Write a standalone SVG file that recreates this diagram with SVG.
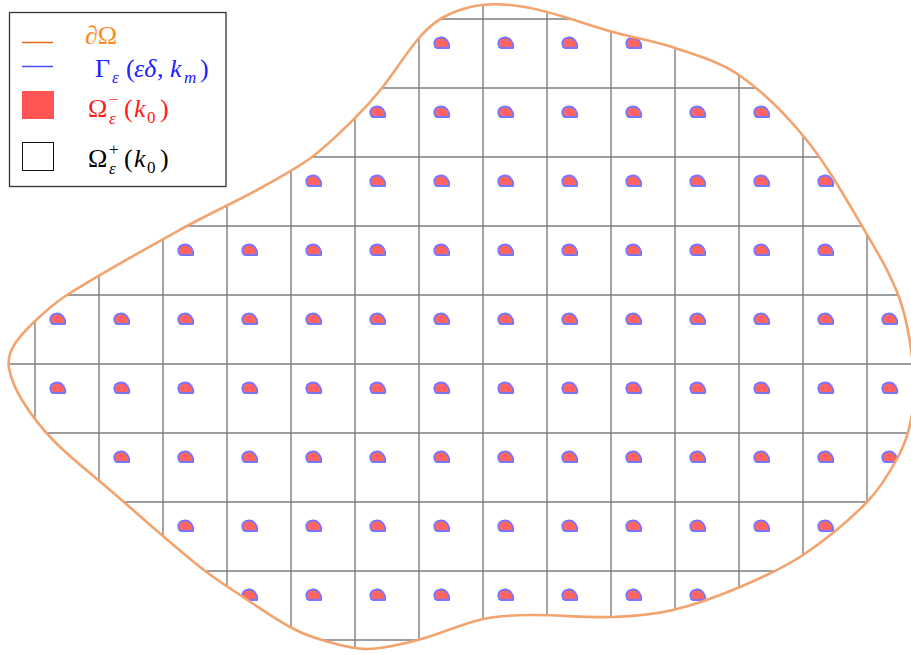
<svg xmlns="http://www.w3.org/2000/svg" xmlns:xlink="http://www.w3.org/1999/xlink" width="911" height="655" viewBox="0 0 911 655">
<style>
.grid line{stroke:#7e7e7e;stroke-width:1.4}
.blob{fill:#ff6464;stroke:#7676ff;stroke-width:1.9;stroke-linejoin:round}
.bd{fill:none;stroke:#f2a36e;stroke-width:2.6}
.t{font-family:"Liberation Serif","Times New Roman",serif;font-size:26px}
.s{font-family:"Liberation Serif","Times New Roman",serif;font-size:17px}
.i{font-style:italic}
</style>
<defs>
<path id="dom" d="M510,5 C522.5,6 534.8,8.8 547,12 C569.2,17.8 590.9,25.8 613,32 C633.5,37.8 654.8,41.1 675,48 C696.9,55.5 720,61.8 739,75 C764,92.3 785.8,114.4 805,138 C827,165.1 844.3,195.9 862,226 C876,249.9 890.8,273.8 900,300 C908.4,324 911.7,349.7 914,375 C915.4,390 913.9,405.2 911,420 C908.5,432.8 904.2,445.5 898,457 C889.4,473 879.7,488.9 867,502 C847.7,521.9 826,539.6 803,555 C783.4,568.1 761.7,577.8 740,587 C718.3,596.2 696,604.6 673,610 C653.4,614.6 633.1,616.3 613,617 C585.4,618 557.7,614.6 530,615 C514.3,615.2 498.4,615.6 483,619 C460.8,624 440,634.3 418,640 C401.3,644.3 384.3,649 367,649 C351.7,649 336.7,644.2 322,640 C310.9,636.8 300.1,632.5 290,627 C273.7,618.1 258.5,607.3 243,597 C228.5,587.3 213.6,578 200,567 C169.3,542.3 139.9,515.8 110,490 C90.9,473.5 70.7,458.1 53,440 C41.2,427.9 30.8,414.4 22,400 C16,390.2 10.9,379.3 9,368 C7.8,361 9.6,353.3 13,347 C17.9,337.8 25.5,330.2 33,323 C43.6,312.8 54.6,302.8 67,295 C106,270.4 146.6,248.3 187,226 C210,213.3 234,202.7 257,190 C275.7,179.7 294.8,169.7 312,157 C327.6,145.5 341.2,131.6 355,118 C364.6,108.5 373.6,98.5 382,88 C395,71.8 405.5,53.7 419,38 C425.6,30.3 433.2,23 442,18 C452.2,12.2 463.5,8.2 475,6 C486.5,3.8 498.4,4 510,5 Z"/>
<clipPath id="clip"><use xlink:href="#dom" href="#dom"/></clipPath>
<path id="b" class="blob" d="M-5,5 C-7.8,4.2 -8.6,-0.6 -6.4,-3.4 C-4,-6.2 1.6,-6.3 4.3,-3.4 C6.4,-1.1 7.6,2.4 7,5 Z"/>
</defs>
<rect width="911" height="655" fill="#fff"/>
<g id="grid" class="grid" clip-path="url(#clip)">
<line x1="35" y1="0" x2="35" y2="655"/><line x1="99" y1="0" x2="99" y2="655"/><line x1="163" y1="0" x2="163" y2="655"/><line x1="227" y1="0" x2="227" y2="655"/><line x1="291" y1="0" x2="291" y2="655"/><line x1="355" y1="0" x2="355" y2="655"/><line x1="419" y1="0" x2="419" y2="655"/><line x1="483" y1="0" x2="483" y2="655"/><line x1="547" y1="0" x2="547" y2="655"/><line x1="611" y1="0" x2="611" y2="655"/><line x1="675" y1="0" x2="675" y2="655"/><line x1="739" y1="0" x2="739" y2="655"/><line x1="803" y1="0" x2="803" y2="655"/><line x1="867" y1="0" x2="867" y2="655"/>
<line x1="0" y1="19" x2="911" y2="19"/><line x1="0" y1="88" x2="911" y2="88"/><line x1="0" y1="157" x2="911" y2="157"/><line x1="0" y1="226" x2="911" y2="226"/><line x1="0" y1="295" x2="911" y2="295"/><line x1="0" y1="364" x2="911" y2="364"/><line x1="0" y1="433" x2="911" y2="433"/><line x1="0" y1="502" x2="911" y2="502"/><line x1="0" y1="571" x2="911" y2="571"/><line x1="0" y1="640" x2="911" y2="640"/>
</g>
<g id="inclusions" clip-path="url(#clip)">
<use href="#b" x="442" y="43"/><use href="#b" x="506" y="43"/><use href="#b" x="570" y="43"/><use href="#b" x="634" y="43"/>
<use href="#b" x="378" y="112"/><use href="#b" x="442" y="112"/><use href="#b" x="506" y="112"/><use href="#b" x="570" y="112"/><use href="#b" x="634" y="112"/><use href="#b" x="698" y="112"/><use href="#b" x="762" y="112"/>
<use href="#b" x="314" y="181"/><use href="#b" x="378" y="181"/><use href="#b" x="442" y="181"/><use href="#b" x="506" y="181"/><use href="#b" x="570" y="181"/><use href="#b" x="634" y="181"/><use href="#b" x="698" y="181"/><use href="#b" x="762" y="181"/><use href="#b" x="826" y="181"/>
<use href="#b" x="186" y="250"/><use href="#b" x="250" y="250"/><use href="#b" x="314" y="250"/><use href="#b" x="378" y="250"/><use href="#b" x="442" y="250"/><use href="#b" x="506" y="250"/><use href="#b" x="570" y="250"/><use href="#b" x="634" y="250"/><use href="#b" x="698" y="250"/><use href="#b" x="762" y="250"/><use href="#b" x="826" y="250"/>
<use href="#b" x="58" y="319"/><use href="#b" x="122" y="319"/><use href="#b" x="186" y="319"/><use href="#b" x="250" y="319"/><use href="#b" x="314" y="319"/><use href="#b" x="378" y="319"/><use href="#b" x="442" y="319"/><use href="#b" x="506" y="319"/><use href="#b" x="570" y="319"/><use href="#b" x="634" y="319"/><use href="#b" x="698" y="319"/><use href="#b" x="762" y="319"/><use href="#b" x="826" y="319"/><use href="#b" x="890" y="319"/>
<use href="#b" x="58" y="388"/><use href="#b" x="122" y="388"/><use href="#b" x="186" y="388"/><use href="#b" x="250" y="388"/><use href="#b" x="314" y="388"/><use href="#b" x="378" y="388"/><use href="#b" x="442" y="388"/><use href="#b" x="506" y="388"/><use href="#b" x="570" y="388"/><use href="#b" x="634" y="388"/><use href="#b" x="698" y="388"/><use href="#b" x="762" y="388"/><use href="#b" x="826" y="388"/><use href="#b" x="890" y="388"/>
<use href="#b" x="122" y="457"/><use href="#b" x="186" y="457"/><use href="#b" x="250" y="457"/><use href="#b" x="314" y="457"/><use href="#b" x="378" y="457"/><use href="#b" x="442" y="457"/><use href="#b" x="506" y="457"/><use href="#b" x="570" y="457"/><use href="#b" x="634" y="457"/><use href="#b" x="698" y="457"/><use href="#b" x="762" y="457"/><use href="#b" x="826" y="457"/><use href="#b" x="890" y="457"/>
<use href="#b" x="186" y="526"/><use href="#b" x="250" y="526"/><use href="#b" x="314" y="526"/><use href="#b" x="378" y="526"/><use href="#b" x="442" y="526"/><use href="#b" x="506" y="526"/><use href="#b" x="570" y="526"/><use href="#b" x="634" y="526"/><use href="#b" x="698" y="526"/><use href="#b" x="762" y="526"/><use href="#b" x="826" y="526"/>
<use href="#b" x="250" y="595"/><use href="#b" x="314" y="595"/><use href="#b" x="378" y="595"/><use href="#b" x="442" y="595"/><use href="#b" x="506" y="595"/><use href="#b" x="570" y="595"/><use href="#b" x="634" y="595"/><use href="#b" x="698" y="595"/>
</g>
<g id="boundary"><use href="#dom" class="bd"/></g>
<g id="legend">
<rect x="9.5" y="12.5" width="216.5" height="174" fill="#fff" stroke="#333" stroke-width="1.3"/>
<line x1="22" y1="42.5" x2="53" y2="42.5" stroke="#e56a1e" stroke-width="1.5"/>
<text class="t" x="85" y="44" fill="#ff8a1c">∂Ω</text>
<line x1="22" y1="66.5" x2="53" y2="66.5" stroke="#4a4aff" stroke-width="1.5"/>
<text class="t" y="77" fill="#2020ff"><tspan x="95">Γ</tspan><tspan class="s i" x="112" y="83">ε</tspan><tspan x="126" y="77">(</tspan><tspan class="i" x="134">εδ</tspan><tspan x="157">,</tspan><tspan class="i" x="170">k</tspan><tspan class="s i" x="184" y="83">m</tspan><tspan x="200" y="77">)</tspan></text>
<rect x="22" y="91" width="32" height="28" fill="#ff5555"/>
<text class="t" y="117" fill="#ff1a1a"><tspan x="88">Ω</tspan><tspan class="s" x="109" y="105">−</tspan><tspan class="s i" x="109" y="124">ε</tspan><tspan x="124" y="117">(</tspan><tspan class="i" x="134">k</tspan><tspan class="s" x="147" y="123">0</tspan><tspan x="160" y="117">)</tspan></text>
<rect x="22.5" y="142.5" width="31" height="28" fill="#fff" stroke="#111" stroke-width="1"/>
<text class="t" y="167" fill="#000"><tspan x="88">Ω</tspan><tspan class="s" x="109" y="155">+</tspan><tspan class="s i" x="109" y="174">ε</tspan><tspan x="124" y="167">(</tspan><tspan class="i" x="134">k</tspan><tspan class="s" x="147" y="173">0</tspan><tspan x="160" y="167">)</tspan></text>
</g>
</svg>
